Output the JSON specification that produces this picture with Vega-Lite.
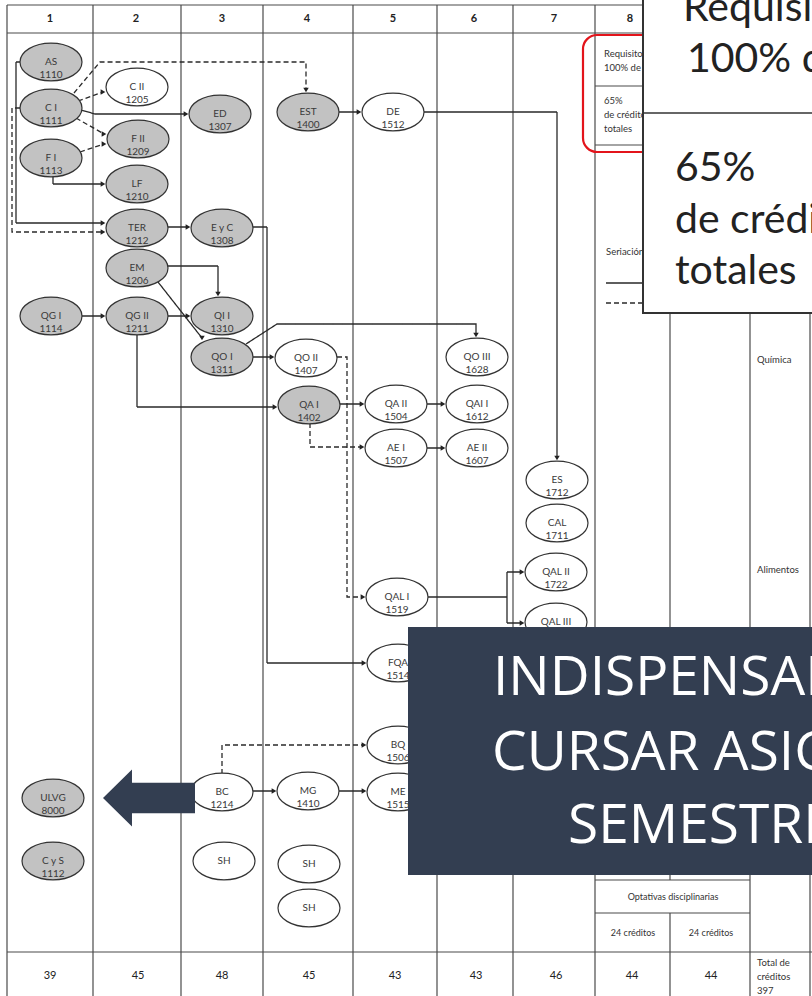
{
  "$schema": "https://vega.github.io/schema/vega-lite/v6.json",
  "width": 812,
  "height": 996,
  "autosize": "none",
  "padding": 0,
  "background": "white",
  "config": {"view": {"stroke": null}, "axis": {"disable": true}, "legend": {"disable": true}},
  "datasets": {
    "grid": [
      {"x": 7, "x2": 7, "y": 5, "y2": 996}, {"x": 93, "x2": 93, "y": 5, "y2": 996},
      {"x": 181, "x2": 181, "y": 5, "y2": 996}, {"x": 263, "x2": 263, "y": 5, "y2": 996},
      {"x": 353, "x2": 353, "y": 5, "y2": 996}, {"x": 437, "x2": 437, "y": 5, "y2": 996},
      {"x": 513, "x2": 513, "y": 5, "y2": 996}, {"x": 595, "x2": 595, "y": 5, "y2": 996},
      {"x": 670, "x2": 670, "y": 5, "y2": 880}, {"x": 670, "x2": 670, "y": 913, "y2": 996},
      {"x": 750, "x2": 750, "y": 5, "y2": 996}, {"x": 810, "x2": 810, "y": 5, "y2": 996},
      {"x": 7, "x2": 812, "y": 5, "y2": 5}, {"x": 7, "x2": 812, "y": 33, "y2": 33},
      {"x": 7, "x2": 812, "y": 952, "y2": 952},
      {"x": 595, "x2": 750, "y": 880, "y2": 880}, {"x": 595, "x2": 750, "y": 913, "y2": 913},
      {"x": 595, "x2": 720, "y": 86, "y2": 86}, {"x": 595, "x2": 720, "y": 145, "y2": 145}
    ],
    "edges": [
      {"e": "e1", "i": 0, "x": 20, "y": 62, "dash": "solid"}, {"e": "e1", "i": 1, "x": 16, "y": 62, "dash": "solid"}, {"e": "e1", "i": 2, "x": 16, "y": 223, "dash": "solid"}, {"e": "e1", "i": 3, "x": 104, "y": 223, "dash": "solid"},
      {"e": "e2", "i": 0, "x": 20, "y": 108, "dash": "dashed"}, {"e": "e2", "i": 1, "x": 12, "y": 108, "dash": "dashed"}, {"e": "e2", "i": 2, "x": 12, "y": 232, "dash": "dashed"}, {"e": "e2", "i": 3, "x": 104, "y": 232, "dash": "dashed"},
      {"e": "e3", "i": 0, "x": 78, "y": 101, "dash": "dashed"}, {"e": "e3", "i": 1, "x": 103, "y": 92, "dash": "dashed"},
      {"e": "e4", "i": 0, "x": 76, "y": 118, "dash": "dashed"}, {"e": "e4", "i": 1, "x": 104, "y": 134, "dash": "dashed"},
      {"e": "e5", "i": 0, "x": 80, "y": 152, "dash": "dashed"}, {"e": "e5", "i": 1, "x": 104, "y": 144, "dash": "dashed"},
      {"e": "e6", "i": 0, "x": 74, "y": 93, "dash": "dashed"}, {"e": "e6", "i": 1, "x": 100, "y": 62, "dash": "dashed"}, {"e": "e6", "i": 2, "x": 306, "y": 62, "dash": "dashed"}, {"e": "e6", "i": 3, "x": 306, "y": 90, "dash": "dashed"},
      {"e": "e7", "i": 0, "x": 81, "y": 110, "dash": "solid"}, {"e": "e7", "i": 1, "x": 95, "y": 114, "dash": "solid"}, {"e": "e7", "i": 2, "x": 186, "y": 114, "dash": "solid"},
      {"e": "e8", "i": 0, "x": 53, "y": 176, "dash": "solid"}, {"e": "e8", "i": 1, "x": 53, "y": 184, "dash": "solid"}, {"e": "e8", "i": 2, "x": 103, "y": 184, "dash": "solid"},
      {"e": "e9", "i": 0, "x": 339, "y": 112, "dash": "solid"}, {"e": "e9", "i": 1, "x": 359, "y": 112, "dash": "solid"},
      {"e": "e10", "i": 0, "x": 424, "y": 112, "dash": "solid"}, {"e": "e10", "i": 1, "x": 557, "y": 112, "dash": "solid"}, {"e": "e10", "i": 2, "x": 557, "y": 458, "dash": "solid"},
      {"e": "e11", "i": 0, "x": 168, "y": 227, "dash": "solid"}, {"e": "e11", "i": 1, "x": 188, "y": 227, "dash": "solid"},
      {"e": "e12", "i": 0, "x": 253, "y": 227, "dash": "solid"}, {"e": "e12", "i": 1, "x": 267, "y": 227, "dash": "solid"}, {"e": "e12", "i": 2, "x": 267, "y": 663, "dash": "solid"}, {"e": "e12", "i": 3, "x": 364, "y": 663, "dash": "solid"},
      {"e": "e13", "i": 0, "x": 168, "y": 266, "dash": "solid"}, {"e": "e13", "i": 1, "x": 218, "y": 266, "dash": "solid"}, {"e": "e13", "i": 2, "x": 218, "y": 294, "dash": "solid"},
      {"e": "e14", "i": 0, "x": 158, "y": 282, "dash": "solid"}, {"e": "e14", "i": 1, "x": 202, "y": 338, "dash": "solid"},
      {"e": "e15", "i": 0, "x": 82, "y": 316, "dash": "solid"}, {"e": "e15", "i": 1, "x": 103, "y": 316, "dash": "solid"},
      {"e": "e16", "i": 0, "x": 168, "y": 316, "dash": "solid"}, {"e": "e16", "i": 1, "x": 188, "y": 316, "dash": "solid"},
      {"e": "e17", "i": 0, "x": 137, "y": 334, "dash": "solid"}, {"e": "e17", "i": 1, "x": 137, "y": 407, "dash": "solid"}, {"e": "e17", "i": 2, "x": 275, "y": 407, "dash": "solid"},
      {"e": "e18", "i": 0, "x": 253, "y": 357, "dash": "solid"}, {"e": "e18", "i": 1, "x": 272, "y": 357, "dash": "solid"},
      {"e": "e19", "i": 0, "x": 246, "y": 344, "dash": "solid"}, {"e": "e19", "i": 1, "x": 277, "y": 324, "dash": "solid"}, {"e": "e19", "i": 2, "x": 476, "y": 324, "dash": "solid"}, {"e": "e19", "i": 3, "x": 476, "y": 335, "dash": "solid"},
      {"e": "e20", "i": 0, "x": 337, "y": 357, "dash": "dashed"}, {"e": "e20", "i": 1, "x": 347, "y": 357, "dash": "dashed"}, {"e": "e20", "i": 2, "x": 347, "y": 597, "dash": "dashed"}, {"e": "e20", "i": 3, "x": 363, "y": 597, "dash": "dashed"},
      {"e": "e21", "i": 0, "x": 340, "y": 404, "dash": "solid"}, {"e": "e21", "i": 1, "x": 362, "y": 404, "dash": "solid"},
      {"e": "e22", "i": 0, "x": 310, "y": 423, "dash": "dashed"}, {"e": "e22", "i": 1, "x": 310, "y": 447, "dash": "dashed"}, {"e": "e22", "i": 2, "x": 362, "y": 447, "dash": "dashed"},
      {"e": "e23", "i": 0, "x": 427, "y": 404, "dash": "solid"}, {"e": "e23", "i": 1, "x": 443, "y": 404, "dash": "solid"},
      {"e": "e24", "i": 0, "x": 427, "y": 448, "dash": "solid"}, {"e": "e24", "i": 1, "x": 443, "y": 448, "dash": "solid"},
      {"e": "e25", "i": 0, "x": 428, "y": 597, "dash": "solid"}, {"e": "e25", "i": 1, "x": 507, "y": 597, "dash": "solid"},
      {"e": "e26", "i": 0, "x": 507, "y": 572, "dash": "solid"}, {"e": "e26", "i": 1, "x": 507, "y": 623, "dash": "solid"},
      {"e": "e27", "i": 0, "x": 507, "y": 572, "dash": "solid"}, {"e": "e27", "i": 1, "x": 522, "y": 572, "dash": "solid"},
      {"e": "e28", "i": 0, "x": 507, "y": 623, "dash": "solid"}, {"e": "e28", "i": 1, "x": 522, "y": 623, "dash": "solid"},
      {"e": "e29", "i": 0, "x": 222, "y": 774, "dash": "dashed"}, {"e": "e29", "i": 1, "x": 222, "y": 745, "dash": "dashed"}, {"e": "e29", "i": 2, "x": 364, "y": 745, "dash": "dashed"},
      {"e": "e30", "i": 0, "x": 253, "y": 791, "dash": "solid"}, {"e": "e30", "i": 1, "x": 274, "y": 791, "dash": "solid"},
      {"e": "e31", "i": 0, "x": 339, "y": 791, "dash": "solid"}, {"e": "e31", "i": 1, "x": 364, "y": 791, "dash": "solid"},
      {"e": "leg1", "i": 0, "x": 606, "y": 283, "dash": "solid"}, {"e": "leg1", "i": 1, "x": 652, "y": 283, "dash": "solid"},
      {"e": "leg2", "i": 0, "x": 606, "y": 303, "dash": "dashed"}, {"e": "leg2", "i": 1, "x": 652, "y": 303, "dash": "dashed"}
    ],
    "heads": [
      {"x": 103, "y": 223, "dir": "right"}, {"x": 103, "y": 232, "dir": "right"}, {"x": 103, "y": 92, "dir": "right"},
      {"x": 104, "y": 134, "dir": "right"}, {"x": 104, "y": 144, "dir": "right"}, {"x": 306, "y": 90, "dir": "down"},
      {"x": 186, "y": 114, "dir": "right"}, {"x": 103, "y": 184, "dir": "right"}, {"x": 359, "y": 112, "dir": "right"},
      {"x": 557, "y": 458, "dir": "down"}, {"x": 188, "y": 227, "dir": "right"}, {"x": 364, "y": 663, "dir": "right"},
      {"x": 218, "y": 294, "dir": "down"}, {"x": 202, "y": 338, "dir": "down"}, {"x": 103, "y": 316, "dir": "right"},
      {"x": 188, "y": 316, "dir": "right"}, {"x": 275, "y": 407, "dir": "right"}, {"x": 272, "y": 357, "dir": "right"},
      {"x": 476, "y": 335, "dir": "down"}, {"x": 363, "y": 597, "dir": "right"}, {"x": 362, "y": 404, "dir": "right"},
      {"x": 362, "y": 447, "dir": "right"}, {"x": 443, "y": 404, "dir": "right"}, {"x": 443, "y": 448, "dir": "right"},
      {"x": 522, "y": 572, "dir": "right"}, {"x": 522, "y": 623, "dir": "right"}, {"x": 364, "y": 745, "dir": "right"},
      {"x": 274, "y": 791, "dir": "right"}, {"x": 364, "y": 791, "dir": "right"}
    ],
    "nodes": [
      {"label": "AS\n1110", "x": 51, "y": 62, "kind": "g"},
      {"label": "C I\n1111", "x": 51, "y": 108, "kind": "g"},
      {"label": "F I\n1113", "x": 51, "y": 158, "kind": "g"},
      {"label": "QG I\n1114", "x": 51, "y": 316, "kind": "g"},
      {"label": "ULVG\n8000", "x": 53, "y": 798, "kind": "g"},
      {"label": "C y S\n1112", "x": 53, "y": 861, "kind": "g"},
      {"label": "C II\n1205", "x": 137, "y": 87, "kind": "w"},
      {"label": "F II\n1209", "x": 138, "y": 139, "kind": "g"},
      {"label": "LF\n1210", "x": 137, "y": 184, "kind": "g"},
      {"label": "TER\n1212", "x": 137, "y": 228, "kind": "g"},
      {"label": "EM\n1206", "x": 137, "y": 268, "kind": "g"},
      {"label": "QG II\n1211", "x": 137, "y": 316, "kind": "g"},
      {"label": "ED\n1307", "x": 220, "y": 114, "kind": "g"},
      {"label": "E y C\n1308", "x": 222, "y": 228, "kind": "g"},
      {"label": "QI I\n1310", "x": 222, "y": 316, "kind": "g"},
      {"label": "QO I\n1311", "x": 222, "y": 357, "kind": "g"},
      {"label": "BC\n1214", "x": 222, "y": 792, "kind": "w"},
      {"label": "SH", "x": 224, "y": 861, "kind": "w"},
      {"label": "EST\n1400", "x": 308, "y": 112, "kind": "g"},
      {"label": "QO II\n1407", "x": 306, "y": 358, "kind": "w"},
      {"label": "QA I\n1402", "x": 309, "y": 405, "kind": "g"},
      {"label": "MG\n1410", "x": 308, "y": 791, "kind": "w"},
      {"label": "SH", "x": 309, "y": 864, "kind": "w"},
      {"label": "SH", "x": 309, "y": 908, "kind": "w"},
      {"label": "DE\n1512", "x": 393, "y": 112, "kind": "w"},
      {"label": "QA II\n1504", "x": 396, "y": 404, "kind": "w"},
      {"label": "AE I\n1507", "x": 396, "y": 448, "kind": "w"},
      {"label": "QAL I\n1519", "x": 397, "y": 597, "kind": "w"},
      {"label": "FQA\n1514", "x": 398, "y": 663, "kind": "w"},
      {"label": "BQ\n1506", "x": 398, "y": 745, "kind": "w"},
      {"label": "ME\n1515", "x": 398, "y": 792, "kind": "w"},
      {"label": "QO III\n1628", "x": 477, "y": 357, "kind": "w"},
      {"label": "QAI I\n1612", "x": 477, "y": 404, "kind": "w"},
      {"label": "AE II\n1607", "x": 477, "y": 448, "kind": "w"},
      {"label": "ES\n1712", "x": 557, "y": 480, "kind": "w"},
      {"label": "CAL\n1711", "x": 557, "y": 523, "kind": "w"},
      {"label": "QAL II\n1722", "x": 556, "y": 572, "kind": "w"},
      {"label": "QAL III\n1723", "x": 556, "y": 622, "kind": "w"}
    ],
    "header": [
      {"t": "1", "x": 50, "y": 19}, {"t": "2", "x": 136, "y": 19}, {"t": "3", "x": 222, "y": 19},
      {"t": "4", "x": 307, "y": 19}, {"t": "5", "x": 393, "y": 19}, {"t": "6", "x": 474, "y": 19},
      {"t": "7", "x": 554, "y": 19}, {"t": "8", "x": 630, "y": 19}
    ],
    "totals": [
      {"t": "39", "x": 50, "y": 976}, {"t": "45", "x": 138, "y": 976}, {"t": "48", "x": 222, "y": 976},
      {"t": "45", "x": 309, "y": 976}, {"t": "43", "x": 395, "y": 976}, {"t": "43", "x": 476, "y": 976},
      {"t": "46", "x": 556, "y": 976}, {"t": "44", "x": 632, "y": 976}, {"t": "44", "x": 711, "y": 976}
    ],
    "smallleft": [
      {"t": "Química", "x": 757, "y": 363},
      {"t": "Alimentos", "x": 757, "y": 573},
      {"t": "Seriación", "x": 606, "y": 255},
      {"t": "Total de\ncréditos\n397", "x": 757, "y": 966},
      {"t": "Requisito\n100% de", "x": 604, "y": 57},
      {"t": "65%\nde créditos\ntotales", "x": 604, "y": 104}
    ],
    "smallcenter": [
      {"t": "Optativas disciplinarias", "x": 673, "y": 897},
      {"t": "24 créditos", "x": 633, "y": 933},
      {"t": "24 créditos", "x": 711, "y": 933}
    ],
    "redbox": [{"x": 583, "x2": 720, "y": 35, "y2": 152}],
    "zoombox": [{"x": 643, "x2": 830, "y": -10, "y2": 313}],
    "zoomline": [{"x": 643, "x2": 812, "y": 113, "y2": 113}],
    "bigtext": [
      {"t": "Requisito", "x": 683, "y": 21},
      {"t": "100% de créditos", "x": 687, "y": 72},
      {"t": "65%", "x": 675, "y": 181},
      {"t": "de créditos", "x": 675, "y": 233},
      {"t": "totales", "x": 675, "y": 284}
    ],
    "navybox": [{"x": 408, "x2": 830, "y": 627, "y2": 875}],
    "navytext": [
      {"t": "INDISPENSABLE", "x": 493, "y": 695},
      {"t": "CURSAR ASIGNATURAS", "x": 492, "y": 770},
      {"t": "SEMESTRE", "x": 568, "y": 843}
    ],
    "navyarrow": [{"x": 149, "y": 798}]
  },
  "layer": [
    {
      "data": {"name": "grid"},
      "mark": {"type": "rule", "stroke": "#4a4a4a", "strokeWidth": 1.2},
      "encoding": {
        "x": {"field": "x", "type": "quantitative", "scale": {"domain": [0, 812], "nice": false, "zero": false}, "axis": null},
        "x2": {"field": "x2"},
        "y": {"field": "y", "type": "quantitative", "scale": {"domain": [0, 996], "reverse": true, "nice": false, "zero": false}, "axis": null},
        "y2": {"field": "y2"}
      }
    },
    {
      "data": {"name": "edges"},
      "mark": {"type": "line", "stroke": "#2a2a2a", "strokeWidth": 1.3, "interpolate": "linear"},
      "encoding": {
        "x": {"field": "x", "type": "quantitative"},
        "y": {"field": "y", "type": "quantitative"},
        "detail": {"field": "e", "type": "nominal"},
        "order": {"field": "i", "type": "quantitative"},
        "strokeDash": {"field": "dash", "type": "nominal", "scale": {"domain": ["solid", "dashed"], "range": [[1, 0], [5, 3]]}, "legend": null}
      }
    },
    {
      "data": {"name": "heads"},
      "mark": {"type": "point", "filled": true, "size": 30, "color": "#222", "opacity": 1},
      "encoding": {
        "x": {"field": "x", "type": "quantitative"},
        "y": {"field": "y", "type": "quantitative"},
        "shape": {"field": "dir", "type": "nominal", "scale": {"domain": ["right", "down", "left", "up"], "range": ["triangle-right", "triangle-down", "triangle-left", "triangle-up"]}, "legend": null}
      }
    },
    {
      "data": {"name": "nodes"},
      "mark": {"type": "point", "shape": "M-1,0A1,0.61,0,1,1,1,0A1,0.61,0,1,1,-1,0Z", "size": 3844, "stroke": "#333", "strokeWidth": 1.2, "opacity": 1, "fillOpacity": 1, "strokeOpacity": 1},
      "encoding": {
        "x": {"field": "x", "type": "quantitative"},
        "y": {"field": "y", "type": "quantitative"},
        "fill": {"field": "kind", "type": "nominal", "scale": {"domain": ["g", "w"], "range": ["#c2c2c2", "#ffffff"]}, "legend": null}
      }
    },
    {
      "data": {"name": "nodes"},
      "mark": {"type": "text", "fontSize": 10, "font": "Lato", "color": "#3a3a3a", "lineBreak": "\n", "lineHeight": 13, "align": "center", "baseline": "middle"},
      "encoding": {
        "x": {"field": "x", "type": "quantitative"},
        "y": {"field": "y", "type": "quantitative"},
        "text": {"field": "label", "type": "nominal"}
      }
    },
    {
      "data": {"name": "header"},
      "mark": {"type": "text", "fontSize": 11, "font": "Lato", "fontWeight": "bold", "color": "#222", "align": "center", "baseline": "middle"},
      "encoding": {
        "x": {"field": "x", "type": "quantitative"},
        "y": {"field": "y", "type": "quantitative"},
        "text": {"field": "t", "type": "nominal"}
      }
    },
    {
      "data": {"name": "totals"},
      "mark": {"type": "text", "fontSize": 11, "font": "Lato", "color": "#222", "align": "center", "baseline": "middle"},
      "encoding": {
        "x": {"field": "x", "type": "quantitative"},
        "y": {"field": "y", "type": "quantitative"},
        "text": {"field": "t", "type": "nominal"}
      }
    },
    {
      "data": {"name": "smallleft"},
      "mark": {"type": "text", "fontSize": 9.5, "font": "Lato", "color": "#333", "align": "left", "baseline": "alphabetic", "lineBreak": "\n", "lineHeight": 14},
      "encoding": {
        "x": {"field": "x", "type": "quantitative"},
        "y": {"field": "y", "type": "quantitative"},
        "text": {"field": "t", "type": "nominal"}
      }
    },
    {
      "data": {"name": "smallcenter"},
      "mark": {"type": "text", "fontSize": 9, "font": "Lato", "color": "#333", "align": "center", "baseline": "middle"},
      "encoding": {
        "x": {"field": "x", "type": "quantitative"},
        "y": {"field": "y", "type": "quantitative"},
        "text": {"field": "t", "type": "nominal"}
      }
    },
    {
      "data": {"name": "redbox"},
      "mark": {"type": "rect", "fill": null, "fillOpacity": 0, "stroke": "#e3141b", "strokeWidth": 2.2, "cornerRadius": 14},
      "encoding": {
        "x": {"field": "x", "type": "quantitative"}, "x2": {"field": "x2"},
        "y": {"field": "y", "type": "quantitative"}, "y2": {"field": "y2"}
      }
    },
    {
      "data": {"name": "zoombox"},
      "mark": {"type": "rect", "fill": "#ffffff", "stroke": "#333", "strokeWidth": 2, "opacity": 1},
      "encoding": {
        "x": {"field": "x", "type": "quantitative"}, "x2": {"field": "x2"},
        "y": {"field": "y", "type": "quantitative"}, "y2": {"field": "y2"}
      }
    },
    {
      "data": {"name": "zoomline"},
      "mark": {"type": "rule", "stroke": "#333", "strokeWidth": 1.5},
      "encoding": {
        "x": {"field": "x", "type": "quantitative"}, "x2": {"field": "x2"},
        "y": {"field": "y", "type": "quantitative"}, "y2": {"field": "y2"}
      }
    },
    {
      "data": {"name": "bigtext"},
      "mark": {"type": "text", "fontSize": 41, "font": "Lato", "color": "#222", "align": "left", "baseline": "alphabetic"},
      "encoding": {
        "x": {"field": "x", "type": "quantitative"},
        "y": {"field": "y", "type": "quantitative"},
        "text": {"field": "t", "type": "nominal"}
      }
    },
    {
      "data": {"name": "navybox"},
      "mark": {"type": "rect", "fill": "#333e51", "opacity": 1},
      "encoding": {
        "x": {"field": "x", "type": "quantitative"}, "x2": {"field": "x2"},
        "y": {"field": "y", "type": "quantitative"}, "y2": {"field": "y2"}
      }
    },
    {
      "data": {"name": "navytext"},
      "mark": {"type": "text", "fontSize": 55, "font": "Open Sans", "color": "#ffffff", "align": "left", "baseline": "alphabetic"},
      "encoding": {
        "x": {"field": "x", "type": "quantitative"},
        "y": {"field": "y", "type": "quantitative"},
        "text": {"field": "t", "type": "nominal"}
      }
    },
    {
      "data": {"name": "navyarrow"},
      "mark": {"type": "point", "shape": "M-1,0L-0.37,-0.62L-0.37,-0.33L1,-0.33L1,0.33L-0.37,0.33L-0.37,0.62Z", "size": 8464, "filled": true, "color": "#333e51", "opacity": 1, "strokeWidth": 0},
      "encoding": {
        "x": {"field": "x", "type": "quantitative"},
        "y": {"field": "y", "type": "quantitative"}
      }
    }
  ]
}
